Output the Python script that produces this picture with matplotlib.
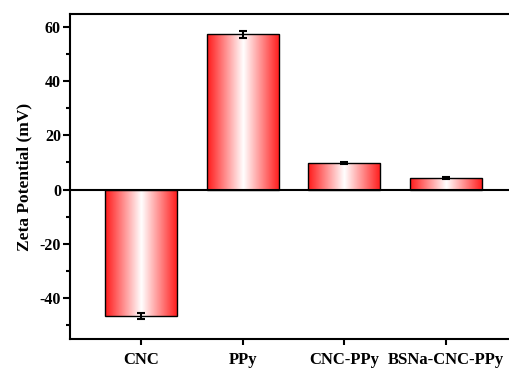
import matplotlib
matplotlib.use("Agg")
import matplotlib.pyplot as plt
import numpy as np
from matplotlib.colors import LinearSegmentedColormap
from matplotlib.ticker import MultipleLocator

categories = ["CNC", "PPy", "CNC-PPy", "BSNa-CNC-PPy"]
values = [-46.5, 57.2, 9.7, 4.2]
errors = [1.0, 1.3, 0.3, 0.4]

plt.rcParams['font.family'] = ['Liberation Serif', 'DejaVu Serif']
plt.rcParams['font.weight'] = 'bold'
plt.rcParams['axes.unicode_minus'] = False

fig = plt.figure(figsize=(5.10, 3.71), dpi=100)
ax = fig.add_axes([70/510, 1-339/371, 445/510, (339-14)/371])

x = np.arange(1, len(categories) + 1)
width = 0.71
cmap = LinearSegmentedColormap.from_list("rw", [(1, 0.1, 0.1), (1, 1, 1), (1, 0.1, 0.1)])
grad = np.linspace(0, 1, 256).reshape(1, -1)

bars = ax.bar(x, values, width=width, color='none', edgecolor='black', linewidth=1.0, zorder=3)
for b in bars:
    x0, y0 = b.get_x(), b.get_y()
    w, h = b.get_width(), b.get_height()
    im = ax.imshow(grad, cmap=cmap, aspect='auto', extent=[x0, x0 + w, y0, y0 + h],
                   zorder=2, interpolation='bicubic')
    im.set_clip_path(b)

ax.errorbar(x, values, yerr=errors, fmt='none', ecolor='black', elinewidth=1.5,
            capsize=3, capthick=1.5, zorder=4)
ax.axhline(0, color='black', linewidth=1.5, zorder=5)

ax.set_xlim(0.3, 4.68)
ax.set_ylim(-55, 64.6)
ax.set_xticks(x)
ax.set_xticklabels(categories, fontsize=12, fontweight='bold')
ax.yaxis.set_major_locator(MultipleLocator(20))
ax.yaxis.set_minor_locator(MultipleLocator(10))
ax.tick_params(axis='y', which='major', direction='out', length=5, width=1.5, labelsize=11.5, pad=1.5)
ax.tick_params(axis='y', which='minor', direction='out', length=3, width=1.5)
ax.tick_params(axis='x', which='major', direction='out', length=4, width=1.5, labelsize=12, pad=5)
for lbl in ax.get_yticklabels():
    lbl.set_fontweight('bold')
ax.set_ylabel("Zeta Potential (mV)", fontsize=12.5, fontweight='bold', labelpad=5)

for s in ['left', 'bottom', 'top']:
    ax.spines[s].set_linewidth(1.5)
ax.spines['right'].set_visible(False)

fig.savefig("out.png", dpi=100)
